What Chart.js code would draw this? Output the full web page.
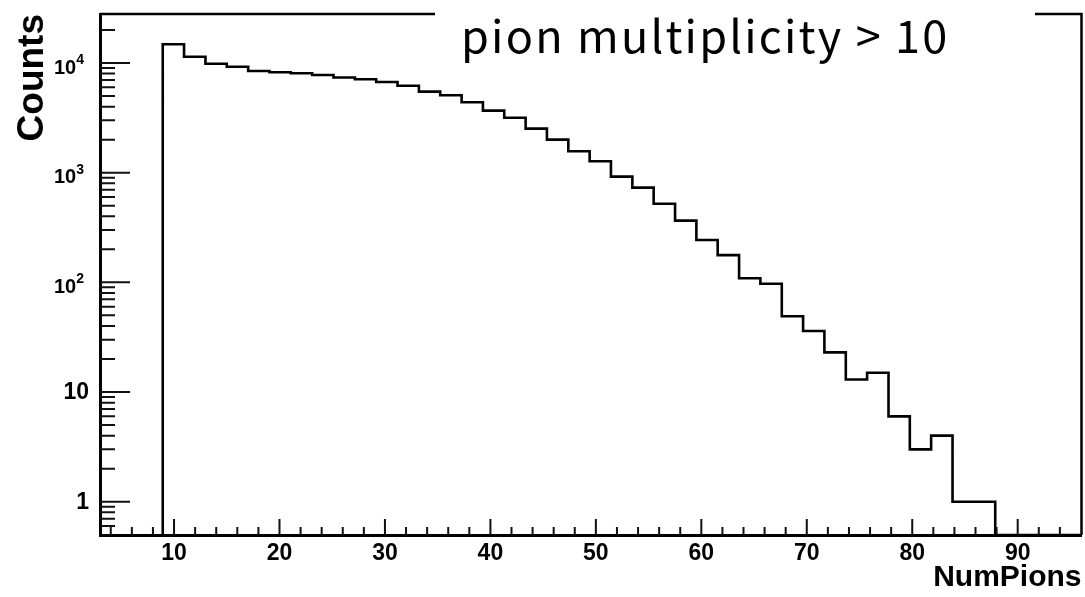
<!DOCTYPE html>
<html>
<head>
<meta charset="utf-8">
<script src="https://cdn.jsdelivr.net/npm/chart.js@4.4.1/dist/chart.umd.min.js"></script>
<style>
  html, body { margin: 0; padding: 0; background: #fff; }
  #wrap { width: 1085px; height: 597px; position: relative; }
</style>
</head>
<body>
<div id="wrap"><canvas id="hist"></canvas></div>
<script>
// histogram bins (lower edges + final upper edge) and counts per bin
const binEdges = [8.93, 10.95, 12.98, 15.00, 17.03, 19.05, 21.07, 23.10, 25.12, 27.15,
  29.17, 31.19, 33.22, 35.24, 37.27, 39.29, 41.31, 43.34, 45.36, 47.39,
  49.41, 51.43, 53.46, 55.48, 57.51, 59.53, 61.55, 63.58, 65.60, 67.63,
  69.65, 71.67, 73.70, 75.72, 77.75, 79.77, 81.79, 83.82, 85.84, 87.87];
const counts = [14800, 11400, 9850, 9250, 8450, 8230, 8050, 7780, 7380, 7100,
  6710, 6210, 5480, 5080, 4390, 3680, 3170, 2520, 2000, 1570,
  1270, 920, 730, 521, 365, 243, 177, 109, 97, 49,
  36, 23, 13, 15, 6, 3, 4, 1, 1];

// axis ranges
const xMin = 2.98, xMax = 96.05;
const yMin = 0.497, yMax = 27970;

// tick values
const xMajorTicks = [10, 20, 30, 40, 50, 60, 70, 80, 90];
const xMinorTicks = [4, 6, 8, 12, 14, 16, 18, 22, 24, 26, 28, 32, 34, 36, 38, 42, 44, 46, 48,
  52, 54, 56, 58, 62, 64, 66, 68, 72, 74, 76, 78, 82, 84, 86, 88, 92, 94];
const yMajorTicks = [1, 10, 100, 1000, 10000];
const yMinorTicks = [0.6, 0.7, 0.8, 0.9, 2, 3, 4, 5, 6, 7, 8, 9, 20, 30, 40, 50, 60, 70, 80, 90,
  200, 300, 400, 500, 600, 700, 800, 900, 2000, 3000, 4000, 5000, 6000, 7000, 8000, 9000, 20000];
const yTickLabels = [
  { value: 1, base: '1', exp: '' },
  { value: 10, base: '10', exp: '' },
  { value: 100, base: '10', exp: '2' },
  { value: 1000, base: '10', exp: '3' },
  { value: 10000, base: '10', exp: '4' }
];

const titleText = 'pion multiplicity > 10';
const xTitle = 'NumPions';
const yTitle = 'Counts';

const FONT = "'Liberation Sans', Arial, Helvetica, sans-serif";

// step points: rise at first edge, one point per bin, drop at last edge
const points = [{ x: binEdges[0], y: yMin }];
counts.forEach((c, i) => points.push({ x: binEdges[i], y: c }));
points.push({ x: binEdges[binEdges.length - 1], y: counts[counts.length - 1] });
points.push({ x: binEdges[binEdges.length - 1], y: yMin });
points.push({ x: xMax, y: yMin });

// ROOT-like frame: inner ticks, exponent labels, top/right frame, title box
const rootFrame = {
  id: 'rootFrame',
  afterDatasetsDraw(chart) {
    const { ctx, chartArea: a, scales: { x, y } } = chart;
    ctx.save();
    ctx.strokeStyle = '#111';
    ctx.lineWidth = 2;
    ctx.beginPath();
    xMajorTicks.forEach(v => {
      const px = x.getPixelForValue(v);
      ctx.moveTo(px, a.bottom); ctx.lineTo(px, a.bottom - 16);
    });
    xMinorTicks.forEach(v => {
      const px = x.getPixelForValue(v);
      ctx.moveTo(px, a.bottom); ctx.lineTo(px, a.bottom - 8);
    });
    yMajorTicks.forEach(v => {
      const py = y.getPixelForValue(v);
      ctx.moveTo(a.left, py); ctx.lineTo(a.left + 30, py);
    });
    yMinorTicks.forEach(v => {
      const py = y.getPixelForValue(v);
      ctx.moveTo(a.left, py); ctx.lineTo(a.left + 15, py);
    });
    ctx.stroke();

    // top and right frame, top broken by the title box
    ctx.strokeStyle = '#000';
    ctx.lineWidth = 2.5;
    ctx.beginPath();
    ctx.moveTo(a.left, a.top); ctx.lineTo(435, a.top);
    ctx.moveTo(1035, a.top); ctx.lineTo(a.right, a.top);
    ctx.lineTo(a.right, a.bottom);
    ctx.stroke();

    // y tick labels
    ctx.fillStyle = '#000';
    yTickLabels.forEach(t => {
      const py = y.getPixelForValue(t.value);
      ctx.textAlign = 'right';
      ctx.textBaseline = 'middle';
      if (!t.exp) {
        ctx.font = 'bold 23px ' + FONT;
        ctx.fillText(t.base, 89, py + 1);
      } else {
        ctx.font = 'bold 14px ' + FONT;
        const ew = ctx.measureText(t.exp).width;
        ctx.fillText(t.exp, 84, py - 3);
        ctx.font = 'bold 20px ' + FONT;
        ctx.fillText(t.base, 84 - ew, py + 5);
      }
    });

    // title
    ctx.font = "45px 'Noto Sans CJK JP', 'Noto Sans', sans-serif";
    ctx.letterSpacing = '2.2px';
    ctx.textAlign = 'left';
    ctx.textBaseline = 'alphabetic';
    ctx.fillText(titleText, 461, 53);
    ctx.restore();
  }
};

new Chart(document.getElementById('hist'), {
  type: 'line',
  data: {
    datasets: [{
      data: points,
      stepped: 'before',
      borderColor: '#000',
      borderWidth: 2.6,
      pointRadius: 0,
      fill: false
    }]
  },
  options: {
    responsive: true,
    maintainAspectRatio: false,
    animation: false,
    layout: { padding: { top: 14, right: 3.5, bottom: 0, left: 0 } },
    plugins: {
      legend: { display: false },
      tooltip: { enabled: false }
    },
    scales: {
      x: {
        type: 'linear',
        min: xMin,
        max: xMax,
        grid: { display: false, drawTicks: false },
        border: { display: true, color: '#000', width: 3 },
        afterBuildTicks: scale => { scale.ticks = xMajorTicks.map(v => ({ value: v })); },
        afterFit: scale => { scale.height = 62; },
        ticks: {
          color: '#000',
          padding: 5,
          maxRotation: 0,
          autoSkip: false,
          font: { family: FONT, size: 23, weight: 'bold' },
          callback: v => String(v)
        },
        title: {
          display: true,
          text: xTitle,
          align: 'end',
          color: '#000',
          padding: { top: 0, bottom: 1 },
          font: { family: FONT, size: 30, weight: 'bold' }
        }
      },
      y: {
        type: 'logarithmic',
        min: yMin,
        max: yMax,
        grid: { display: false, drawTicks: false },
        border: { display: true, color: '#000', width: 3 },
        afterFit: scale => { scale.width = 100; },
        ticks: { display: false },
        title: {
          display: true,
          text: yTitle,
          align: 'end',
          color: '#000',
          padding: { top: 11, bottom: 0 },
          font: { family: FONT, size: 37, weight: 'bold' }
        }
      }
    }
  },
  plugins: [rootFrame]
});
</script>
</body>
</html>
